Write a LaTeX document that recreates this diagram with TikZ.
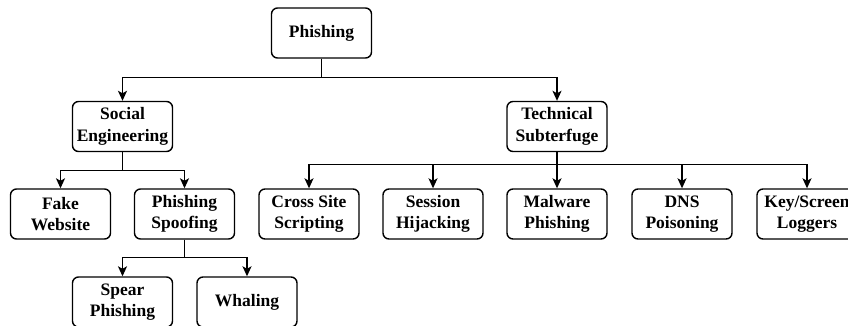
\documentclass[tikz,border=0pt]{standalone}
\usepackage{fontspec}
\setmainfont{Liberation Serif}
\usetikzlibrary{arrows.meta}
\begin{document}
\begin{tikzpicture}[x=1pt,y=-1pt,
  box/.style={draw=black, line width=1.4pt, rounded corners=6pt, fill=white,
    minimum width=100pt, minimum height=50pt, inner sep=0pt, align=center,
    font=\fontsize{17.5}{21.5}\selectfont\bfseries},
  conn/.style={draw=black, line width=1.4pt, -{Stealth[length=10pt,width=9pt,inset=2.5pt]}}]
\useasboundingbox (0,0) rectangle (848,325);
\node[box] (phish) at (321.5,33) {Phishing};
\node[box] (se) at (122.5,126.5) {Social\\Engineering};
\node[box] (ts) at (557,126.5) {Technical\\Subterfuge};
\node[box] (fake) at (60.5,214) {Fake\\Website};
\node[box] (spoof) at (184.5,214) {Phishing\\Spoofing};
\node[box] (xss) at (309,214) {Cross Site\\Scripting};
\node[box] (sess) at (433,214) {Session\\Hijacking};
\node[box] (mal) at (557,214) {Malware\\Phishing};
\node[box] (dns) at (682,214) {DNS\\Poisoning};
\node[box] (key) at (807,214) {Key/Screen\\Loggers};
\node[box] (spear) at (122.5,302) {Spear\\Phishing};
\node[box] (whal) at (247,302) {Whaling};
\draw[conn] (phish.south) -- ++(0,19) -| (se.north);
\draw[conn] (phish.south) -- ++(0,19) -| (ts.north);
\draw[conn] (se.south) -- ++(0,18) -| (fake.north);
\draw[conn] (se.south) -- ++(0,18) -| (spoof.north);
\draw[conn] (ts.south) -- ++(0,12) -| (xss.north);
\draw[conn] (ts.south) -- ++(0,12) -| (sess.north);
\draw[conn] (ts.south) -- (mal.north);
\draw[conn] (ts.south) -- ++(0,12) -| (dns.north);
\draw[conn] (ts.south) -- ++(0,12) -| (key.north);
\draw[conn] (spoof.south) -- ++(0,18) -| (spear.north);
\draw[conn] (spoof.south) -- ++(0,18) -| (whal.north);
\end{tikzpicture}
\end{document}
